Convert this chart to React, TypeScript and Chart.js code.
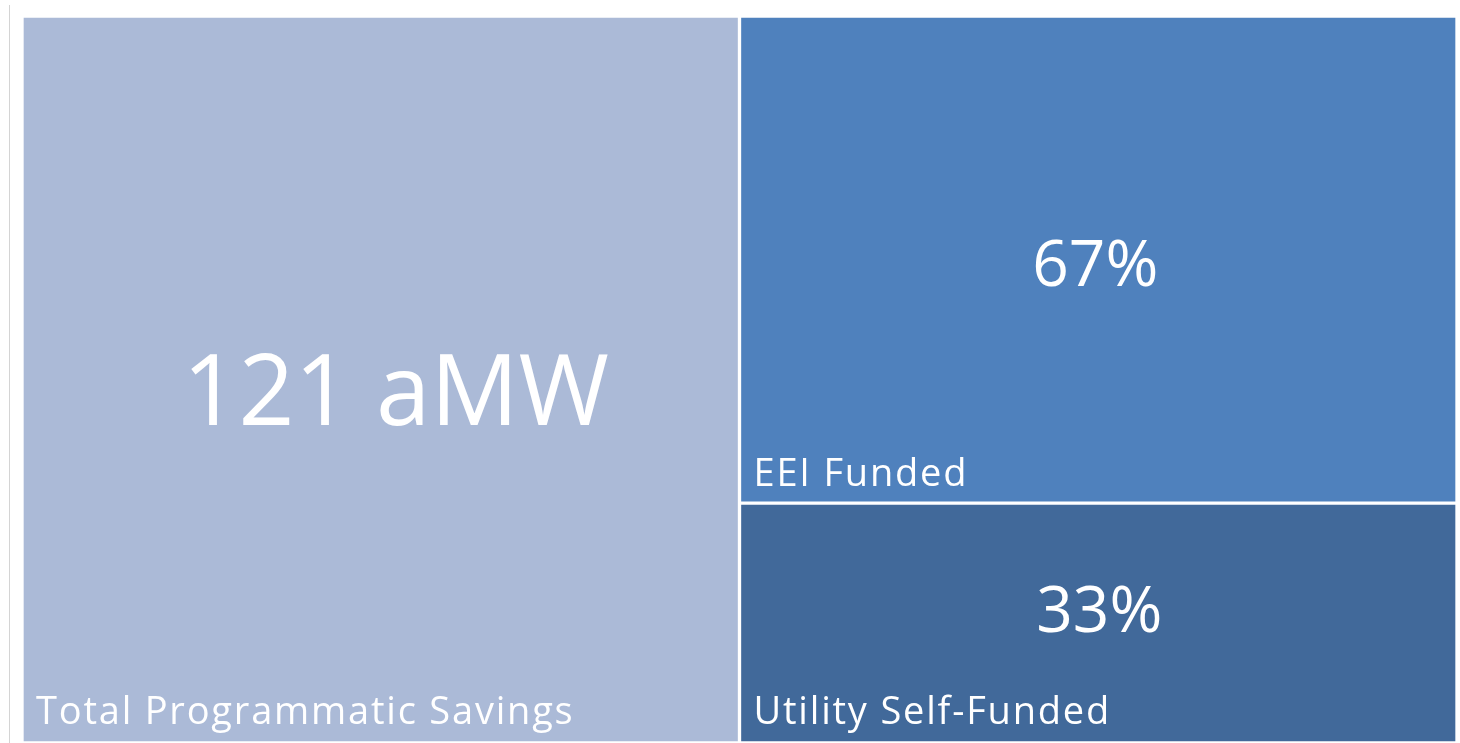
import React, { useEffect, useRef } from "react";
import { Chart, registerables } from "chart.js";

Chart.register(...registerables);

const categories = ["Total", "Breakdown"];
const totalLabel = "Total Programmatic Savings";
const totalAmw = 121;
const totalValues = [100, null];
const selfLabel = "Utility Self-Funded";
const selfValues = [null, 33];
const eeiLabel = "EEI Funded";
const eeiValues = [null, 67];

const FONT = "'Open Sans', 'Noto Sans', sans-serif";

const labelPlugin = {
  id: "treeLabels",
  afterDatasetsDraw(chart: any) {
    const ctx = chart.ctx;
    ctx.save();
    ctx.fillStyle = "#ffffff";
    chart.data.datasets.forEach((ds: any, di: number) => {
      const meta = chart.getDatasetMeta(di);
      meta.data.forEach((el: any, i: number) => {
        const v = ds.data[i];
        if (v == null) return;
        const p = el.getProps(["x", "y", "base", "width"], true);
        const left = p.x - p.width / 2 + 2;
        const right = p.x + p.width / 2 - 2;
        const top = Math.min(p.y, p.base) + 2;
        const bottom = Math.max(p.y, p.base) - 2;
        // category label bottom-left
        ctx.font = `${ds.catFont}px ${FONT}`;
        ctx.textAlign = "left";
        ctx.textBaseline = "alphabetic";
        (ctx as any).letterSpacing = "1.8px";
        ctx.fillText(ds.label, left + 12, bottom - ds.catGap);
        (ctx as any).letterSpacing = "0px";
        // value label
        ctx.font = `${ds.valFont}px ${FONT}`;
        ctx.textAlign = "center";
        ctx.textBaseline = "middle";
        const txt = ds.valueText ? ds.valueText : `${v}%`;
        ctx.fillText(txt, (left + right) / 2 + ds.valDx, (top + bottom) / 2 + ds.valDy);
      });
    });
    ctx.restore();
  },
};

export default function App() {
  const ref = useRef<HTMLCanvasElement>(null);
  useEffect(() => {
    const chart = new Chart(ref.current!, {
      type: "bar",
      data: {
        labels: categories,
        datasets: [
          {
            label: totalLabel,
            data: totalValues,
            backgroundColor: "#ABBAD7",
            valueText: `${totalAmw} aMW`,
            valFont: 98,
            valDx: 15,
            valDy: 18,
            catFont: 38,
            catGap: 17,
          } as any,
          {
            label: selfLabel,
            data: selfValues,
            backgroundColor: "#41699A",
            valFont: 64,
            valDx: 1,
            valDy: -9,
            catFont: 38,
            catGap: 17,
          } as any,
          {
            label: eeiLabel,
            data: eeiValues,
            backgroundColor: "#4F81BD",
            valFont: 64,
            valDx: -3,
            valDy: 8,
            catFont: 38,
            catGap: 15,
          } as any,
        ],
      },
      options: {
        animation: false,
        responsive: false,
        maintainAspectRatio: false,
        layout: { padding: { left: 22, top: 16, right: 3, bottom: 0 } },
        datasets: {
          bar: {
            barPercentage: 1,
            categoryPercentage: 1,
            borderColor: "#ffffff",
            borderWidth: 2,
            borderSkipped: false,
            grouped: false,
          },
        } as any,
        scales: {
          x: { display: false, stacked: true, grid: { display: false } },
          y: { display: false, stacked: true, min: 0, max: 100, grid: { display: false } },
        },
        plugins: {
          legend: { display: false },
          tooltip: { enabled: false },
          title: { display: false },
        },
      },
      plugins: [labelPlugin],
    });
    return () => chart.destroy();
  }, []);
  return (
    <div style={{ position: "fixed", left: 0, top: 0, width: 1460, height: 743, background: "#ffffff" }}>
      <div style={{ position: "absolute", left: 9, top: 5, width: 0, height: 738, borderLeft: "1px solid #d4d4d4" }} />
      <canvas ref={ref} width={1460} height={743} style={{ position: "absolute", left: 0, top: 0, width: 1460, height: 743 }} />
    </div>
  );
}
